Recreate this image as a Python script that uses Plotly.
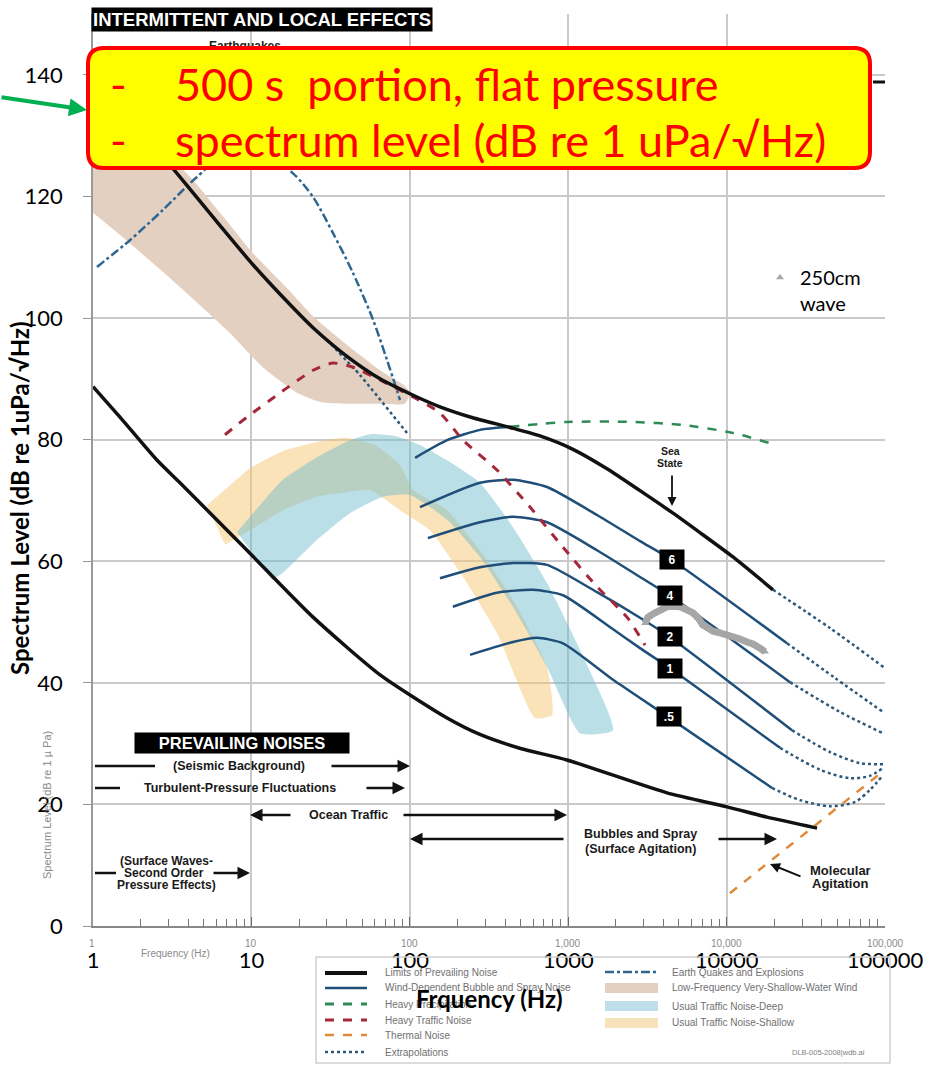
import plotly.graph_objects as go

# ---------------- data (frequency in Hz, level in dB) ----------------
# Limits of prevailing noise
upper_f = [1.5, 1.98, 3.39, 6.34, 10.2, 16.8, 24.5, 40.1, 64.9, 105, 155, 250, 429, 664, 1072, 1758, 2840, 4590, 6790, 10970, 19630]
upper_db = [134.0, 130.9, 123.8, 115.2, 108.8, 102.7, 98.4, 93.7, 90.0, 87.3, 85.4, 83.6, 82.0, 80.6, 78.4, 75.2, 71.6, 67.9, 64.7, 60.7, 55.3]
upper_ext_f = [19630, 44970, 100000]
upper_ext_db = [55.3, 49.0, 42.4]
lower_f = [1.0, 1.48, 2.54, 3.54, 9.38, 24.5, 64.9, 172, 277, 500, 983, 4205, 10060, 17990, 37230]
lower_db = [88.7, 83.7, 76.6, 72.9, 61.8, 50.8, 41.3, 34.2, 31.5, 29.2, 27.3, 21.9, 19.6, 17.9, 16.1]

# Thermal noise
thermal_f = [10500, 100000]
thermal_db = [5.4, 25.7]

# Wind-dependent bubble and spray noise (sea states)
windA_f = [108, 172, 277, 429]
windA_db = [77.0, 79.9, 81.6, 82.1]
wind6_f = [116, 277, 448, 735, 1520, 2840, 4520, 24060]
wind6_db = [68.9, 72.9, 73.4, 72.2, 67.6, 63.3, 60.2, 46.5]
wind4_f = [130, 277, 448, 735, 1520, 2840, 4520, 25130]
wind4_db = [63.8, 66.4, 67.3, 66.4, 61.8, 57.4, 54.1, 40.1]
wind2_f = [155, 277, 448, 735, 1520, 2840, 4395, 25870]
wind2_db = [57.2, 59.0, 59.7, 59.4, 54.9, 50.7, 47.5, 32.2]
wind1_f = [187, 355, 600, 927, 1920, 2840, 4395, 21740]
wind1_db = [52.5, 54.8, 55.3, 54.4, 48.8, 45.7, 42.4, 29.3]
wind05_f = [240, 448, 635, 927, 1920, 2840, 4266, 19360]
wind05_db = [44.6, 46.7, 47.4, 46.5, 40.5, 37.5, 34.4, 22.7]

# Extrapolations
ext6_f = [24060, 48330, 97100]
ext6_db = [46.5, 40.8, 35.2]
ext4_f = [25130, 52000, 97100]
ext4_db = [40.1, 35.2, 31.7]
ext2_f = [25870, 44970, 69500, 97100]
ext2_db = [32.2, 28.6, 26.8, 26.6]
ext1_f = [21740, 38900, 60100, 80400, 97100]
ext1_db = [29.3, 25.7, 24.3, 24.7, 26.0]
ext05_f = [19360, 29050, 44970, 64700, 80400, 97100]
ext05_db = [22.7, 20.7, 19.7, 20.4, 22.4, 24.8]
ext_low_f = [30.0, 48.5, 96]
ext_low_db = [96.4, 90.6, 81.1]

# Heavy traffic noise
traffic_f = [6.81, 9.38, 15.2, 24.5, 32.7, 43.8, 64.9, 105, 155, 217, 355, 574, 927, 1520, 2350, 3055]
traffic_db = [80.8, 83.7, 87.7, 91.4, 92.6, 91.9, 89.8, 87.0, 84.4, 79.9, 75.0, 68.9, 62.3, 55.8, 50.8, 46.2]

# Heavy precipitation
precip_f = [429, 983, 2565, 5310, 10970, 18800]
precip_db = [82.1, 82.9, 82.9, 82.4, 81.1, 79.4]

# Earth quakes and explosions
quake_f = [1.06, 1.71, 2.77, 4.53, 9.11, 18.3, 24.5, 32.7, 43.8, 58.6, 71.8, 86.7]
quake_db = [108.4, 112.8, 117.8, 123.2, 129.3, 123.8, 119.9, 114.0, 107.4, 99.7, 93.1, 86.5]

# Low-frequency very-shallow-water wind (band outline)
shallow_wind_f = [1.0, 3.39, 6.34, 10.2, 16.8, 24.5, 40.1, 64.9, 93.3, 100, 93.3, 64.9, 40.1, 27.1, 19.4, 11.8, 7.33, 3.54, 1.71, 1.0]
shallow_wind_db = [127.6, 125.2, 117.3, 110.7, 104.9, 100.3, 95.6, 91.4, 88.8, 87.6, 85.9, 85.9, 85.9, 86.2, 87.7, 91.9, 97.5, 105.1, 112.3, 117.3]

# Usual traffic noise - shallow (band outline)
traffic_sh_f = [5.24, 7.33, 9.80, 15.8, 25.9, 39.0, 60.3, 86.7, 105, 172, 277, 448, 735, 791, 617, 355, 217, 134, 86.7, 56.1, 36.3, 25.9, 15.8, 9.80, 6.81]
traffic_sh_db = [69.2, 72.5, 75.3, 78.1, 79.6, 80.3, 79.1, 75.8, 71.7, 68.4, 61.8, 53.6, 42.6, 34.7, 34.2, 48.2, 57.4, 65.1, 68.4, 71.7, 71.2, 70.6, 68.4, 65.1, 62.7]

# Usual traffic noise - deep (band outline)
traffic_dp_f = [8.11, 11.3, 15.8, 25.9, 41.9, 56.1, 80.7, 116, 179, 277, 448, 735, 1187, 1920, 1187, 735, 448, 277, 172, 100, 67.8, 41.9, 25.9, 15.8, 13.5]
traffic_dp_db = [64.8, 69.2, 73.4, 77.1, 79.9, 80.9, 80.6, 79.1, 76.3, 72.9, 65.6, 56.4, 45.4, 32.2, 31.7, 42.6, 52.5, 60.7, 66.8, 70.9, 70.6, 67.9, 63.5, 58.1, 56.9]

# Measured: 250cm wave, 500 s portion, flat pressure
wave_f = [3053, 3190, 3532, 3797, 4205, 4587, 5080, 5623, 6137, 6598, 7096, 7630, 8206, 9085, 10058, 10975, 12150, 13453, 14678, 16250, 17475]
wave_db = [49.8, 50.8, 51.5, 52.0, 52.5, 52.6, 52.5, 52.0, 51.5, 50.7, 49.5, 49.0, 48.5, 48.2, 47.9, 47.5, 47.2, 46.7, 46.4, 45.7, 45.1]

x_tickvals = [1, 10, 100, 1000, 10000, 100000]
x_ticktext = ["1", "10", "100", "1000", "10000", "100000"]
y_tickvals = [0, 20, 40, 60, 80, 100, 120, 140]
y_ticktext = ["0", "20", "40", "60", "80", "100", "120", "140"]

# ---------------- styles ----------------
BLACK = "#111111"
BLUE = "#1f4f78"
DOT = "#2d5878"
GREEN = "#2e8b57"
RED = "#a4283a"
ORANGE = "#e08a3c"
DASHDOT = "#2f6690"
TAN = "rgb(228,208,193)"
SH_FILL = "rgba(245,200,115,0.5)"
DP_FILL = "rgba(110,188,205,0.48)"

fig = go.Figure()


def band(f, db, color):
    fig.add_trace(go.Scatter(x=f, y=db, mode="lines", fill="toself", fillcolor=color,
                             line=dict(width=0, shape="spline", smoothing=0.5),
                             showlegend=False, hoverinfo="skip"))


def curve(f, db, color, width, dash="solid", smooth=0.5):
    fig.add_trace(go.Scatter(x=f, y=db, mode="lines",
                             line=dict(color=color, width=width, dash=dash, shape="spline", smoothing=smooth),
                             showlegend=False, hoverinfo="skip"))


band(shallow_wind_f, shallow_wind_db, TAN)
band(traffic_sh_f, traffic_sh_db, SH_FILL)
band(traffic_dp_f, traffic_dp_db, DP_FILL)

curve(quake_f, quake_db, DASHDOT, 2.5, "dashdot", 0.8)
curve(ext_low_f, ext_low_db, DOT, 2.5, "dot")
for f, d in [(ext6_f, ext6_db), (ext4_f, ext4_db), (ext2_f, ext2_db), (ext1_f, ext1_db),
             (ext05_f, ext05_db), (upper_ext_f, upper_ext_db)]:
    curve(f, d, DOT, 2.5, "dot", 0.8)
for f, d in [(windA_f, windA_db), (wind6_f, wind6_db), (wind4_f, wind4_db), (wind2_f, wind2_db),
             (wind1_f, wind1_db), (wind05_f, wind05_db)]:
    curve(f, d, BLUE, 2.5, "solid", 0.6)
curve(precip_f, precip_db, GREEN, 2.5, "dash", 0.7)
curve(traffic_f, traffic_db, RED, 3, "dash", 0.6)
curve(thermal_f, thermal_db, ORANGE, 2.5, "dash")
curve(upper_f, upper_db, BLACK, 3.5, "solid", 0.6)
curve(lower_f, lower_db, BLACK, 3.5, "solid", 0.6)

# "Earthquakes" label (below the yellow callout)
fig.add_trace(go.Scatter(x=[9.1], y=[144.6], mode="text", text=["<b>Earthquakes</b>"],
                         textfont=dict(family="Liberation Sans", size=12, color="#222"),
                         showlegend=False, hoverinfo="skip"))

# measured series
fig.add_trace(go.Scatter(x=wave_f, y=wave_db, mode="lines",
                         line=dict(color="#a6a6a6", width=7), showlegend=False, hoverinfo="skip"))
fig.add_trace(go.Scatter(x=wave_f, y=wave_db, mode="markers", name="250cm<br>wave",
                         marker=dict(symbol="triangle-up", size=7, color="#a6a6a6")))


# ---------------- helpers for decorations (pixel -> paper) ----------------
def PX(x):
    return (x - 93) / 792.0


def PY(y):
    return (926 - y) / 912.0


shapes = []
annos = []


def hline(x0, x1, y, color=BLACK, width=2.5, dash="solid"):
    shapes.append(dict(type="line", xref="paper", yref="paper", x0=PX(x0), x1=PX(x1), y0=PY(y), y1=PY(y),
                       line=dict(color=color, width=width, dash=dash), layer="above"))


def arrow(hx, hy, tx, ty, color=BLACK, width=2.5, head=2, size=1.0):
    annos.append(dict(x=PX(hx), y=PY(hy), xref="paper", yref="paper", ax=tx - hx, ay=ty - hy,
                      showarrow=True, arrowhead=head, arrowsize=size, arrowwidth=width,
                      arrowcolor=color, text=""))


def label(text, x, y, size=12, color="#1a1a1a", family="Liberation Sans", xanchor="center",
          angle=0, bg=None, **kw):
    d = dict(x=PX(x), y=PY(y), xref="paper", yref="paper", text=text, showarrow=False,
             xanchor=xanchor, yanchor="middle", textangle=angle,
             font=dict(size=size, color=color, family=family))
    if bg:
        d["bgcolor"] = bg
    d.update(kw)
    annos.append(d)


# Wenz chart headings
label("<b>INTERMITTENT AND LOCAL EFFECTS</b>", 262, 19, size=18.5, color="white", bg="black",
      borderpad=1)
label("<b>PREVAILING NOISES</b>", 242, 743, size=16.5, color="white", bg="black", borderpad=1,
      width=212)

# prevailing noise arrows
hline(95, 155, 766)
label("<b>(Seismic Background)</b>", 239, 766, size=12.5)
arrow(410, 766, 330, 766)
hline(95, 120, 788)
label("<b>Turbulent-Pressure Fluctuations</b>", 240, 788, size=12.5)
arrow(405, 788, 365, 788)
arrow(250, 815, 292, 815)
label("<b>Ocean Traffic</b>", 348, 815, size=12.5)
arrow(567, 815, 402, 815)
arrow(410, 839, 565, 839)
label("<b>Bubbles and Spray</b>", 640, 834, size=12.5)
label("<b>(Surface Agitation)</b>", 640, 849, size=12.5)
arrow(777, 839, 717, 839)
label("<b>(Surface Waves-</b>", 166, 861, size=12)
label("<b>Second Order</b>", 164, 873, size=12)
label("<b>Pressure Effects)</b>", 166, 885, size=12)
hline(95, 116, 873)
arrow(250, 873, 212, 873)

# sea state
label("<b>Sea</b>", 670, 451, size=10.5)
label("<b>State</b>", 670, 463, size=10.5)
arrow(672, 506, 672, 474, width=1.8)
for txt, x, y in [("6", 672, 560), ("4", 670, 596), ("2", 670, 636), ("1", 670, 668), (".5", 669, 716)]:
    label("<b>%s</b>" % txt, x, y, size=12, color="white", bg="black", width=20, height=15, borderpad=2)

# molecular agitation
label("<b>Molecular</b>", 840, 870, size=13)
label("<b>Agitation</b>", 840, 883, size=13)
arrow(770, 864, 802, 877, width=2)

# short black segment at top right
hline(873, 885, 82, width=3)

# original (Wenz) axis annotations
for t, x in [("1", 92), ("10", 251), ("100", 409), ("1,000", 567), ("10,000", 726), ("100,000", 885)]:
    label(t, x, 944, size=10, color="#8a8a8a")
label("Frequency (Hz)", 175, 953, size=10, color="#8a8a8a")
label("Spectrum Level (dB re 1 \u00b5 Pa)", 47, 805, size=11, color="#8a8a8a", angle=-90)

# Wenz legend box
shapes.append(dict(type="rect", xref="paper", yref="paper", x0=PX(316), x1=PX(890), y0=PY(1063), y1=PY(957),
                   line=dict(color="#d0d0d0", width=1.5), fillcolor="rgba(0,0,0,0)", layer="above"))
left_rows = [("Limits of Prevailing Noise", BLACK, 4, "solid", 973),
             ("Wind-Dependent Bubble and Spray Noise", BLUE, 2.5, "solid", 988),
             ("Heavy Precipitation", GREEN, 3, "dash", 1004),
             ("Heavy Traffic Noise", RED, 3, "dash", 1020),
             ("Thermal Noise", ORANGE, 2.5, "dash", 1035),
             ("Extrapolations", DOT, 2.5, "dot", 1052)]
for txt, col, w, dsh, y in left_rows:
    hline(325, 367, y, color=col, width=w, dash=dsh)
    label(txt, 383, y, size=10, color="#707070", xanchor="left")
hline(605, 658, 972, color=DASHDOT, width=2.5, dash="dashdot")
label("Earth Quakes and Explosions", 670, 972, size=10, color="#707070", xanchor="left")
for txt, col, y in [("Low-Frequency Very-Shallow-Water Wind", TAN, 988),
                    ("Usual Traffic Noise-Deep", "rgb(190,222,234)", 1006),
                    ("Usual Traffic Noise-Shallow", "rgb(248,226,185)", 1023)]:
    shapes.append(dict(type="rect", xref="paper", yref="paper", x0=PX(605), x1=PX(658),
                       y0=PY(y + 5), y1=PY(y - 5), line=dict(width=0), fillcolor=col, layer="above"))
    label(txt, 670, y, size=10, color="#707070", xanchor="left")
label("DLB-005-2008|wdb.ai", 828, 1052, size=7.5, color="#808080")

# yellow callout with rounded corners
x0, x1, yb, yt = PX(88), PX(870), PY(168), PY(48)
rx, ry = 16 / 792.0, 16 / 912.0
path = (f"M {x0+rx},{yt} L {x1-rx},{yt} Q {x1},{yt} {x1},{yt-ry} L {x1},{yb+ry} "
        f"Q {x1},{yb} {x1-rx},{yb} L {x0+rx},{yb} Q {x0},{yb} {x0},{yb+ry} "
        f"L {x0},{yt-ry} Q {x0},{yt} {x0+rx},{yt} Z")
shapes.append(dict(type="path", xref="paper", yref="paper", path=path, fillcolor="#ffff00",
                   line=dict(color="#ff0000", width=4), layer="above"))
label("-", 118, 84, size=45, color="#ff0000", family="Lato")
label("500 s  portion, flat pressure", 173, 84, size=45, color="#ff0000", family="Lato", xanchor="left")
label("-", 118, 140, size=45, color="#ff0000", family="Lato")
label("spectrum level (dB re 1 uPa/\u221aHz)", 173, 140, size=45, color="#ff0000", family="Lato",
      xanchor="left")
# green arrow pointing at the callout
arrow(87, 110, 0, 97, color="#00b050", width=4, head=2, size=0.9)

# Excel-style axis titles
label("<b>Spectrum Level (dB re 1uPa/\u221aHz)</b>", 19, 498, size=24, color="black", family="Lato", angle=-90)
label("<b>Frquency (Hz)</b>", 489, 998, size=24, color="black", family="Lato")

minor_vals = [m * 10 ** k for k in range(5) for m in range(2, 10)]

fig.update_layout(
    width=936, height=1067,
    margin=dict(l=93, r=51, t=14, b=141),
    paper_bgcolor="white", plot_bgcolor="white",
    shapes=shapes, annotations=annos,
    showlegend=True,
    legend=dict(x=PX(760), y=PY(258), xanchor="left", yanchor="top", bgcolor="rgba(0,0,0,0)",
                font=dict(family="Lato", size=20, color="black"), valign="top", itemwidth=30),
    xaxis=dict(type="log", range=[0, 5], tickmode="array", tickvals=x_tickvals, ticktext=x_ticktext,
               showgrid=True, gridcolor="#c9c9c9", gridwidth=1.6, zeroline=False,
               ticks="inside", ticklen=9, tickcolor="#666", tickwidth=1.2,
               minor=dict(tickmode="array", tickvals=minor_vals, ticks="inside", ticklen=7,
                          tickcolor="#777", tickwidth=1.2, showgrid=False),
               showline=True, linecolor="#888", linewidth=1.5,
               tickfont=dict(family="Lato", size=22, color="black"), ticklabelstandoff=14),
    yaxis=dict(range=[0, 150], tickmode="array", tickvals=y_tickvals, ticktext=y_ticktext,
               showgrid=True, gridcolor="#c9c9c9", gridwidth=1.6, zeroline=False,
               ticks="outside", ticklen=8, tickcolor="#999", tickwidth=1.2,
               showline=True, linecolor="#999", linewidth=1.5,
               tickfont=dict(family="Lato", size=22, color="black"), ticklabelstandoff=16),
)

fig.write_html("out.html")
